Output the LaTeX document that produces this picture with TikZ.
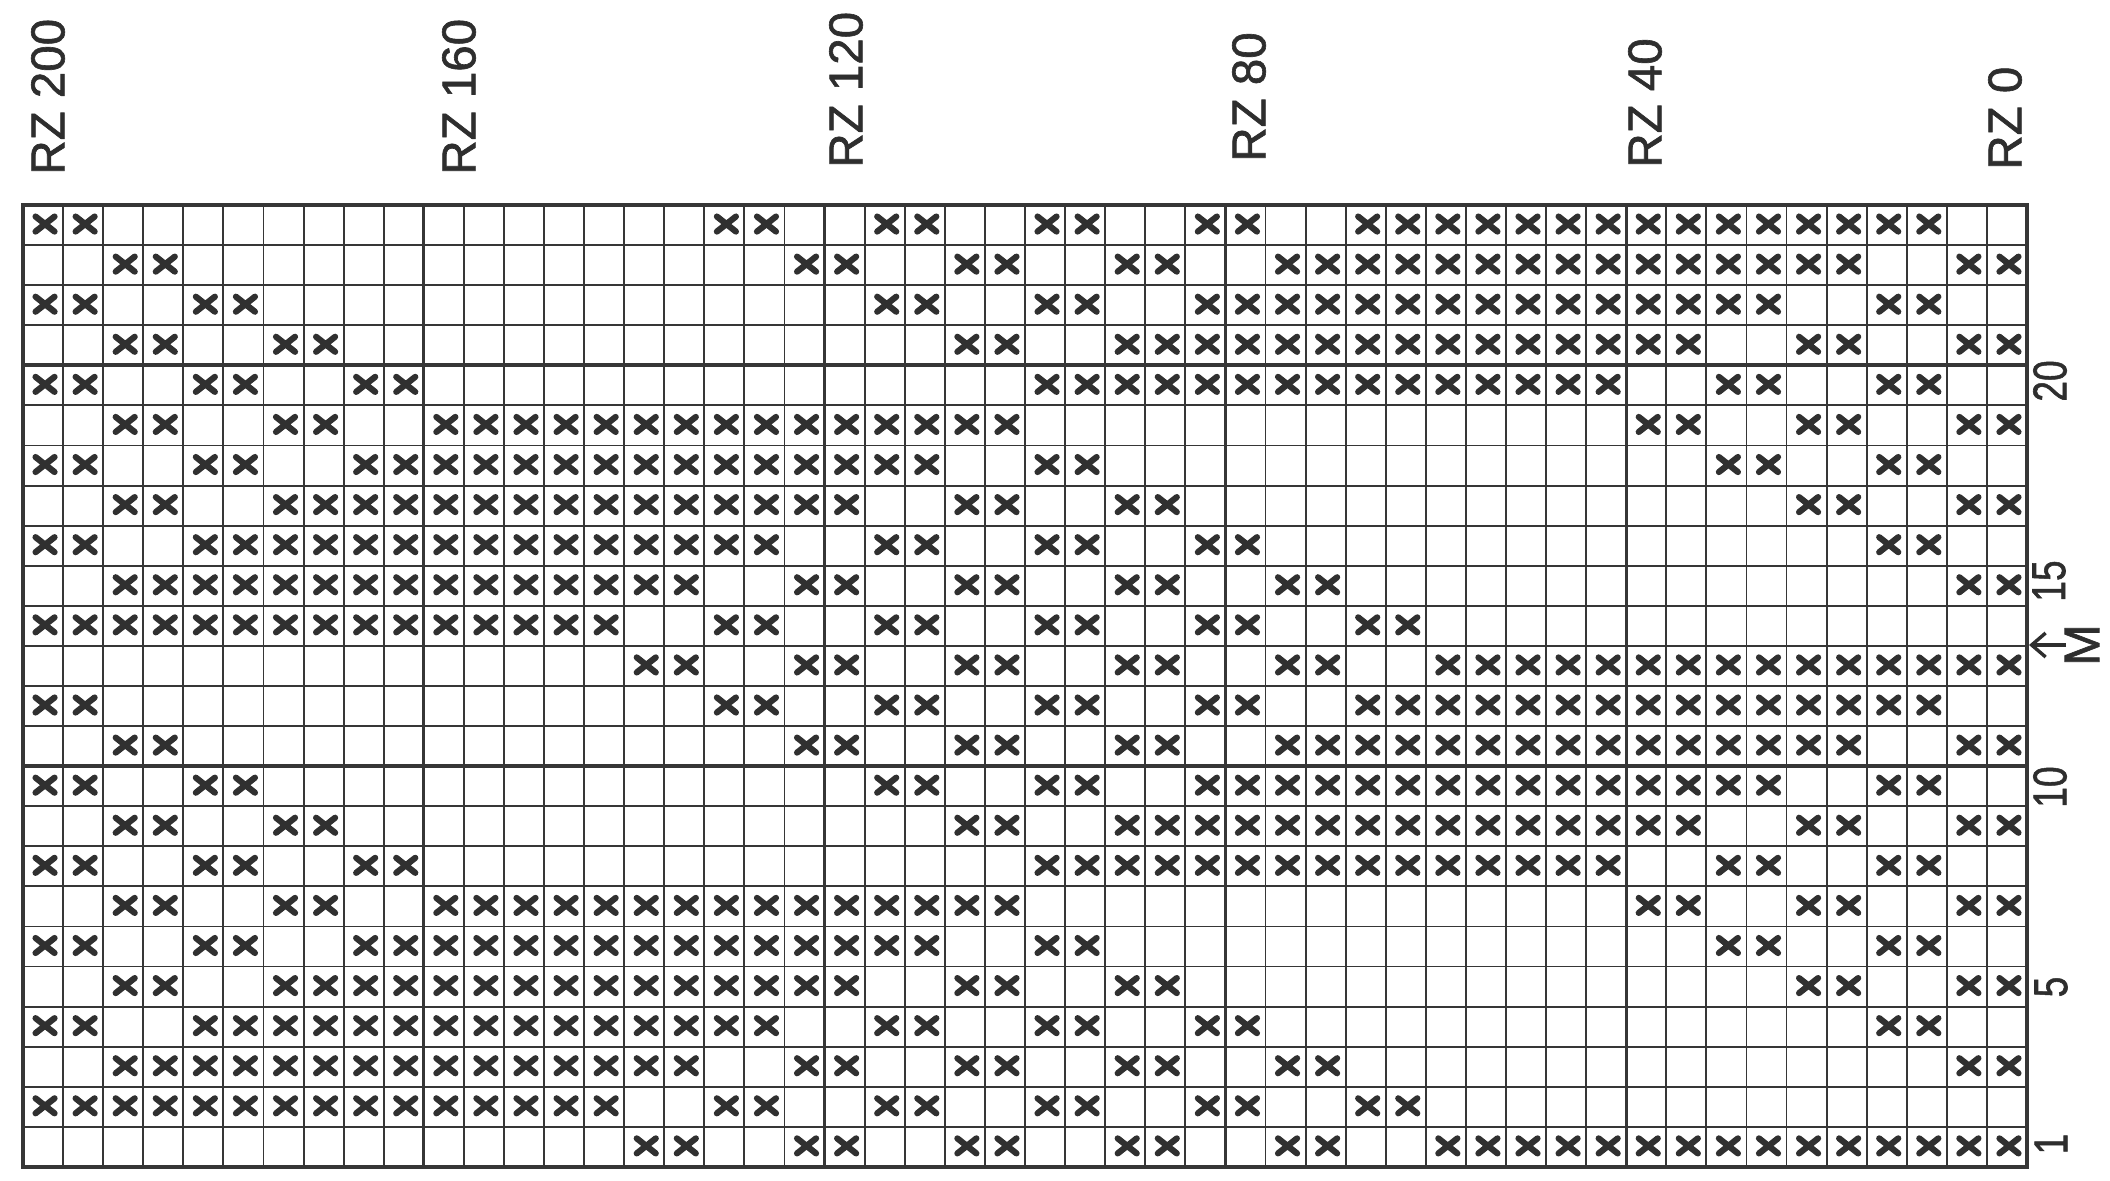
\documentclass[tikz,border=0pt]{standalone}
\usepackage{fontspec}
\setmainfont{Liberation Sans}
\newfontfamily\lblfont{Liberation Sans}[FakeBold=1.3]
\usetikzlibrary{arrows.meta}
\definecolor{gridc}{HTML}{363636}
\definecolor{markc}{HTML}{303030}
\definecolor{txtc}{HTML}{2E2E2E}
\begin{document}
\begin{tikzpicture}[x=0.5pt,y=-0.5pt,
  thingrid/.style={line width=0.95pt,draw=gridc},
  tengrid/.style={line width=1.4pt,draw=gridc},
  thickgrid/.style={line width=2pt,draw=gridc},
  border/.style={line width=1.6pt,draw=gridc},
  xmk/.style={line width=3.1pt,draw=markc,line cap=round},
  rzlabel/.style={rotate=90,anchor=west,inner sep=0pt,text=txtc,
    font=\lblfont\fontsize{23.75pt}{28pt}\selectfont},
  rowlabel/.style={rotate=90,anchor=center,inner sep=0pt,text=txtc,
    font=\lblfont\fontsize{23.75pt}{28pt}\selectfont},
  arrowline/.style={line width=1.7pt,draw=txtc,-{Straight Barb[length=7pt,width=12pt]}}
]
\fill[white] (0,0) rectangle (2110,1180);
\useasboundingbox (0,0) rectangle (2110,1180);
\def\gx{23}\def\gy{205}\def\cw{40.08}
% grid
\foreach \i in {1,...,49} \draw[thingrid] (\gx+\i*\cw,\gy) -- (\gx+\i*\cw,\gy+24*\cw);
\foreach \j in {1,...,23} \draw[thingrid] (\gx,\gy+\j*\cw) -- (\gx+50*\cw,\gy+\j*\cw);
\foreach \i in {10,20,30,40} \draw[tengrid] (\gx+\i*\cw,\gy) -- (\gx+\i*\cw,\gy+24*\cw);
\foreach \j in {4,14} \draw[thickgrid] (\gx,\gy+\j*\cw) -- (\gx+50*\cw,\gy+\j*\cw);
\draw[border] (\gx,\gy) rectangle (\gx+50*\cw,\gy+24*\cw);
% marks
\foreach \t/\cl in {
 1/{1,2,18,19,22,23,26,27,30,31,34,35,36,37,38,39,40,41,42,43,44,45,46,47,48},
 2/{3,4,20,21,24,25,28,29,32,33,34,35,36,37,38,39,40,41,42,43,44,45,46,49,50},
 3/{1,2,5,6,22,23,26,27,30,31,32,33,34,35,36,37,38,39,40,41,42,43,44,47,48},
 4/{3,4,7,8,24,25,28,29,30,31,32,33,34,35,36,37,38,39,40,41,42,45,46,49,50},
 5/{1,2,5,6,9,10,26,27,28,29,30,31,32,33,34,35,36,37,38,39,40,43,44,47,48},
 6/{3,4,7,8,11,12,13,14,15,16,17,18,19,20,21,22,23,24,25,41,42,45,46,49,50},
 7/{1,2,5,6,9,10,11,12,13,14,15,16,17,18,19,20,21,22,23,26,27,43,44,47,48},
 8/{3,4,7,8,9,10,11,12,13,14,15,16,17,18,19,20,21,24,25,28,29,45,46,49,50},
 9/{1,2,5,6,7,8,9,10,11,12,13,14,15,16,17,18,19,22,23,26,27,30,31,47,48},
 10/{3,4,5,6,7,8,9,10,11,12,13,14,15,16,17,20,21,24,25,28,29,32,33,49,50},
 11/{1,2,3,4,5,6,7,8,9,10,11,12,13,14,15,18,19,22,23,26,27,30,31,34,35},
 12/{16,17,20,21,24,25,28,29,32,33,36,37,38,39,40,41,42,43,44,45,46,47,48,49,50}}{
  \foreach \o in {0,12}{
    \foreach \c in \cl {
      \pgfmathsetmacro\cx{\gx+(\c-0.5)*\cw+2}
      \pgfmathsetmacro\cy{\gy+(\t+\o-0.5)*\cw-1}
      \draw[xmk] (\cx-9.5,\cy-7.5) -- (\cx+9.5,\cy+7.5) (\cx-9.5,\cy+7.5) -- (\cx+9.5,\cy-7.5);
    }
  }
}
% column labels
\node[rzlabel] (rz200) at (48,175) {RZ 200};
\node[rzlabel] (rz160) at (459,175) {RZ 160};
\node[rzlabel] (rz120) at (846,168) {RZ 120};
\node[rzlabel] (rz80) at (1249,162) {RZ 80};
\node[rzlabel] (rz40) at (1645,168) {RZ 40};
\node[rzlabel] (rz0) at (2005,170) {RZ 0};
% row labels
\node[rowlabel] (r20) at (2050,381) {\scalebox{0.78}[1]{20}};
\node[rowlabel] (r15) at (2049,581) {\scalebox{0.78}[1]{15}};
\node[rowlabel] (r10) at (2050,787) {\scalebox{0.78}[1]{10}};
\node[rowlabel] (r5) at (2051,987) {\scalebox{0.78}[1]{5}};
\node[rowlabel] (r1) at (2051,1144) {\scalebox{0.78}[1]{1}};
\node[rowlabel,font=\lblfont\fontsize{25pt}{28pt}\selectfont] (m) at (2082,645) {M};
\coordinate (arrtail) at (2066,645);
\coordinate (arrtip) at (2029,645);
\draw[arrowline] (arrtail) -- (arrtip);
\end{tikzpicture}
\end{document}
